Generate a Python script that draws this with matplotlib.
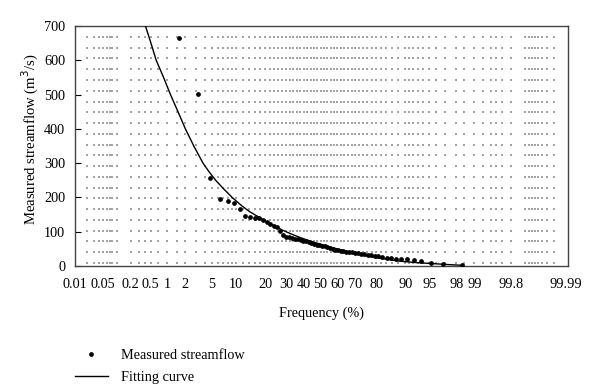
from statistics import NormalDist

import numpy as np
import matplotlib
matplotlib.use("Agg")
import matplotlib.pyplot as plt
from matplotlib.lines import Line2D

plt.rcParams['font.family'] = ['Liberation Serif', 'DejaVu Serif']

# measured streamflow (m3/s), sorted, plotted at m/(n+1)
measured_q = [665, 503, 257, 194, 191, 185, 167, 146, 142, 140, 139, 133, 128, 122,
              117, 113, 103, 90, 86, 84, 82, 80, 78, 76, 74, 72, 70, 68, 65, 62,
              60, 58, 57, 55, 53, 50, 48, 46, 45, 44, 42, 41, 40, 38, 37, 35,
              34, 32, 31, 30, 28, 26, 24, 22, 21, 20, 19, 17, 15, 10, 6, 2]
n_obs = len(measured_q)
measured_p = [100.0 * m / (n_obs + 1) for m in range(1, n_obs + 1)]

# fitting curve
fit_p = [0.40, 0.51, 0.64, 0.87, 1.15, 1.54, 2.03, 2.74, 3.75, 4.55, 5.6, 7.1,
         9.2, 11.7, 14.2, 17.6, 20.6, 24.2, 28.4, 33.0, 37.8, 44.8, 51.2, 57.5,
         67.0, 75.8, 82.9, 88.5, 92.6, 95.5, 97.4, 98.4]
fit_q = [700, 650, 600, 550, 500, 450, 400, 350, 300, 275, 250, 225,
         198, 175, 158, 142, 129, 117, 104, 93, 83, 71, 62, 53,
         40, 29, 21, 14, 10, 7, 4, 2]

xtick_vals = [0.01, 0.05, 0.2, 0.5, 1, 2, 5, 10, 20, 30, 40, 50, 60, 70, 80,
              90, 95, 98, 99, 99.8, 99.99]
xtick_labels = ["0.01", "0.05", "0.2", "0.5", "1", "2", "5", "10", "20", "30",
                "40", "50", "60", "70", "80", "90", "95", "98", "99", "99.8", "99.99"]
ytick_vals = [0, 100, 200, 300, 400, 500, 600, 700]

_nd = NormalDist()
_ppf = np.vectorize(_nd.inv_cdf, otypes=[float])
_cdf = np.vectorize(_nd.cdf, otypes=[float])


def prob_fwd(p):
    p = np.clip(np.asarray(p, dtype=float) / 100.0, 1e-9, 1 - 1e-9)
    return _ppf(p)


def prob_inv(z):
    return _cdf(np.asarray(z, dtype=float)) * 100.0


fig = plt.figure(figsize=(6, 3.9), dpi=100)
ax = fig.add_axes([75 / 600, 1 - 266 / 390, 493 / 600, 240 / 390])
ax.set_xscale('function', functions=(prob_fwd, prob_inv))
ax.set_xlim(0.01, 99.991)
ax.set_ylim(0, 700)

# probability-paper dot grid
half = ([0.02, 0.03, 0.04, 0.05, 0.06, 0.07, 0.08, 0.1, 0.2, 0.3, 0.4, 0.5, 0.7,
         1, 1.5, 2, 3, 4, 5, 6, 7, 8, 9, 10] + list(range(12, 50, 2)))
grid_x = np.array(half + [50] + [100 - v for v in half])
grid_y = np.linspace(9, 668, 22)
gx, gy = np.meshgrid(grid_x, grid_y)
ax.scatter(gx.ravel(), gy.ravel(), s=1.2, marker='s', color='#a3a3a3',
           linewidths=0, zorder=1)

ax.plot(fit_p, fit_q, color='black', lw=1.0, zorder=3)
ax.plot(measured_p, measured_q, linestyle='none', marker='o', ms=2.4,
        color='black', zorder=4)

ax.set_xticks(xtick_vals)
ax.set_xticklabels(xtick_labels)
ax.minorticks_off()
ax.set_yticks(ytick_vals)
ax.tick_params(axis='x', length=0, labelsize=10.3, pad=9)
ax.tick_params(axis='y', direction='in', length=4, width=0.8, labelsize=10.3, pad=7)
for s in ax.spines.values():
    s.set_color('#444444')
    s.set_linewidth(1.0)

ax.set_xlabel("Frequency (%)", fontsize=10.3, labelpad=11)
ax.set_ylabel("Measured streamflow (m$^3$/s)", fontsize=10.6)
ax.yaxis.set_label_coords(-0.069, 0.53)

handles = [Line2D([], [], linestyle='none', marker='o', ms=2.4, color='black'),
           Line2D([], [], color='black', lw=1.0)]
fig.legend(handles, ["Measured streamflow", "Fitting curve"],
           loc='upper left', bbox_to_anchor=(75 / 600, 1 - 349 / 390),
           frameon=False, fontsize=10.3, handlelength=2.3, handletextpad=0.9,
           labelspacing=0.6, borderpad=0, borderaxespad=0)

fig.savefig("out.png", dpi=100)
